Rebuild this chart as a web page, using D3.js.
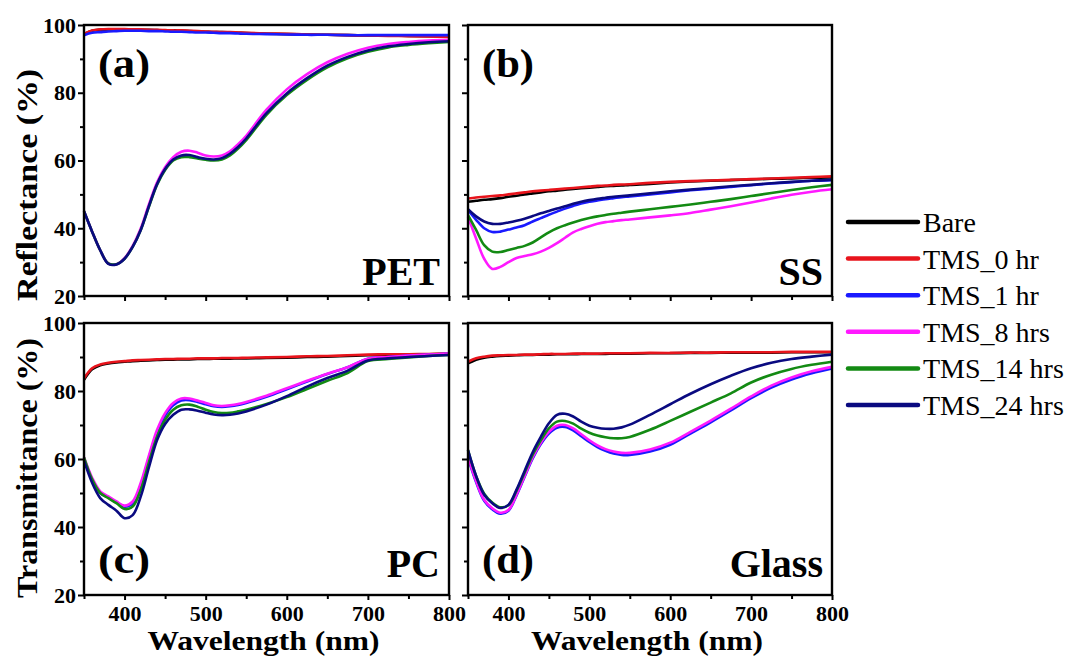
<!DOCTYPE html>
<html>
<head>
<meta charset="utf-8">
<script src="https://cdn.jsdelivr.net/npm/d3@7"></script>
<style>
  body { margin: 0; background: #fff; }
  svg { display: block; }
</style>
</head>
<body>
<script>
// wavelength grid (nm) shared by every series
const wavelengths = [350,360,370,380,390,400,410,420,430,440,450,460,470,480,490,500,510,520,530,540,550,575,600,625,650,675,700,725,750,775,800]

const seriesNames = ['Bare', 'TMS_0 hr', 'TMS_1 hr', 'TMS_8 hrs', 'TMS_14 hrs', 'TMS_24 hrs']
const seriesColors = ['#000000', '#e8141c', '#1a1aff', '#ff19ff', '#138a13', '#0a0a80']

const yTicksMajor = [20, 40, 60, 80, 100]
const yTicksMinor = [30, 50, 70, 90]
const xTicksMajor = [400, 500, 600, 700, 800]
const xTicksMinor = [350, 450, 550, 650, 750]

// (a) PET reflectance
const petBare = [97.3,98.3,98.6,98.7,98.7,98.7,98.7,98.6,98.6,98.5,98.4,98.4,98.3,98.2,98.1,98.0,97.9,97.9,97.8,97.7,97.6,97.4,97.3,97.2,97.1,97.0,96.9,96.9,96.8,96.7,96.6]
const pet0 = [97.4,98.4,98.7,98.8,98.8,98.8,98.7,98.7,98.6,98.6,98.5,98.4,98.4,98.3,98.2,98.1,98.0,97.9,97.9,97.8,97.7,97.5,97.4,97.2,97.1,97.0,96.9,96.8,96.7,96.6,96.5]
const pet1 = [97.0,97.7,97.9,98.1,98.2,98.3,98.3,98.3,98.2,98.2,98.1,98.0,98.0,97.9,97.8,97.8,97.7,97.6,97.6,97.5,97.4,97.3,97.2,97.1,97.1,97.0,97.0,97.0,97.0,97.0,97.0]
const pet8 = [45,39,33.5,29.6,29.4,31.2,34.8,40,47,53.5,58,61,62.6,62.9,62.3,61.5,61.2,61.5,62.7,64.8,67.3,75,81,85.5,89,91.5,93.3,94.4,95,95.4,95.6]
const pet14 = [45,39,33.5,29.6,29.4,31,34.5,39.5,46.3,52.8,57.2,60,61,61,60.6,60.2,60,60.3,61.5,63.5,66,73.5,79.3,83.8,87.5,90.2,92.1,93.4,94.1,94.6,95.0]
const pet24 = [45,39,33.5,29.5,29.3,31,34.5,39.5,46.5,53,57.5,60.3,61.5,61.6,61,60.5,60.3,60.7,62,64,66.5,74,79.8,84.3,88,90.6,92.5,93.7,94.4,94.9,95.2]

// (b) SS reflectance
const ssBare = [47.8,48.1,48.4,48.6,48.9,49.3,49.6,50,50.3,50.6,50.9,51.1,51.4,51.6,51.8,52,52.2,52.4,52.5,52.6,52.8,53.1,53.5,53.8,54,54.2,54.4,54.6,54.7,54.9,55.0]
const ss0 = [48.8,49.1,49.3,49.5,49.7,50,50.3,50.6,50.9,51.1,51.3,51.5,51.7,51.9,52.1,52.3,52.5,52.6,52.8,52.9,53.0,53.4,53.7,53.9,54.1,54.3,54.5,54.7,54.9,55.1,55.3]
const ss1 = [45.4,42.5,40,38.9,39,39.6,40.2,40.9,42,43,44,44.9,45.8,46.6,47.3,47.8,48.2,48.6,48.9,49.2,49.4,50,50.6,51.2,51.7,52.2,52.7,53.2,53.6,54,54.2]
const ss8 = [43.4,37,31,28,28.6,30,31.2,31.8,32.3,33.1,34.2,35.6,37.2,38.8,39.8,40.6,41.3,41.8,42.1,42.4,42.6,43.2,43.8,44.5,45.5,46.5,47.6,48.8,49.9,50.8,51.5]
const ss14 = [43.9,39.5,35,33.1,33,33.6,34.2,34.8,35.8,37.3,38.8,40,40.9,41.7,42.4,43,43.5,43.9,44.3,44.6,44.9,45.6,46.3,47,47.8,48.6,49.5,50.4,51.3,52.1,52.8]
const ss24 = [45.6,43.5,42,41.3,41.3,41.7,42.2,42.8,43.6,44.4,45.1,45.8,46.5,47.2,47.8,48.3,48.7,49,49.3,49.5,49.7,50.3,50.9,51.4,51.9,52.4,52.8,53.3,53.7,54,54.3]

// (c) PC transmittance
const pcBare = [83.3,86.4,87.6,88.1,88.4,88.6,88.8,88.9,89.0,89.1,89.2,89.2,89.3,89.3,89.4,89.4,89.5,89.5,89.5,89.6,89.6,89.7,89.8,90.0,90.1,90.3,90.5,90.6,90.7,90.8,90.9]
const pc0 = [83.7,86.7,87.8,88.3,88.6,88.8,89.0,89.1,89.2,89.3,89.4,89.4,89.5,89.5,89.6,89.6,89.6,89.7,89.7,89.7,89.8,89.9,90.0,90.2,90.3,90.5,90.7,90.8,90.8,90.9,91.0]
const pc1 = [60,54,50,48.7,47.2,46,47,52.3,60.3,67.8,72.8,75.8,77.2,77.3,76.8,76.1,75.5,75.3,75.5,75.9,76.5,78.3,80.5,82.8,85,87,89.5,90,90.4,90.7,91]
const pc8 = [60.5,54.5,50.5,49,47.5,46.3,47.5,53,61,68.5,73.5,76.5,77.8,77.8,77.2,76.5,75.8,75.6,75.8,76.2,76.8,78.6,80.8,83,85.1,87,89.5,90,90.4,90.7,91]
const pc14 = [60.5,54,50,48.5,47,45.3,46,51,59,66.5,71.5,74.5,75.8,76,75.4,74.5,73.8,73.5,73.6,74,74.5,76.2,78.2,80.6,83,85.3,88.8,89.4,89.9,90.3,90.6]
const pc24 = [59.5,53,48.5,46.5,44.8,42.6,43.5,49,57.5,65.5,70.3,73,74.5,74.6,74.2,73.6,73.1,72.9,73,73.4,74,76,78.5,81.3,83.8,86,89,89.6,90,90.3,90.6]

// (d) Glass transmittance
const glassBare = [88.1,89.2,89.8,90.1,90.3,90.4,90.5,90.6,90.6,90.7,90.7,90.8,90.8,90.8,90.9,90.9,90.9,90.9,91.0,91.0,91.0,91.1,91.1,91.2,91.2,91.3,91.3,91.3,91.4,91.4,91.4]
const glass0 = [88.6,89.6,90.1,90.4,90.5,90.6,90.6,90.7,90.7,90.8,90.9,90.9,90.9,91.0,91.0,91.0,91.0,91.1,91.1,91.1,91.1,91.2,91.2,91.3,91.3,91.4,91.4,91.4,91.5,91.5,91.5]
const glass1 = [60.4,53.2,47.7,45.2,43.9,44.8,49.3,54.8,60.2,64.4,67.5,69.2,69.4,68.4,66.7,65,63.5,62.4,61.6,61.2,61.2,62.2,64.2,67.5,70.8,74.3,77.9,81,83.4,85.2,86.6]
const glass8 = [60.6,53.5,48,45.5,44.2,45,49.5,55,60.5,64.8,68,69.8,70,69,67.3,65.5,64,62.9,62.2,61.8,61.8,62.8,64.8,68,71.3,74.8,78.4,81.6,84,85.8,87.1]
const glass14 = [62.6,55,49.8,47.2,45.8,46.4,50.7,56,61.3,65.5,69,71,71.2,70.4,68.9,67.7,66.9,66.4,66.1,66.1,66.5,68.6,71.2,73.9,76.6,79.3,82.5,84.8,86.5,87.7,88.6]
const glass24 = [62.6,55,49.5,47,45.6,46.5,51,56.5,62,66.5,70.5,73,73.3,72.5,71,69.8,69.2,68.9,68.9,69.3,70.1,73,76.1,79.2,82,84.5,86.7,88.3,89.4,90.1,90.7]

// panel layout
let svgWidth = 1077
let svgHeight = 656

let panels = [
    {id:'(a)', name:'PET', series:[petBare,pet0,pet1,pet8,pet14,pet24], x0:84, x1:449, y0:25, y1:296, yLabels:true, xLabels:false, top:true},
    {id:'(b)', name:'SS', series:[ssBare,ss0,ss1,ss8,ss14,ss24], x0:468, x1:832, y0:25, y1:296, yLabels:false, xLabels:false, top:true},
    {id:'(c)', name:'PC', series:[pcBare,pc0,pc1,pc8,pc14,pc24], x0:84, x1:449, y0:323, y1:595, yLabels:true, xLabels:true, top:false},
    {id:'(d)', name:'Glass', series:[glassBare,glass0,glass1,glass8,glass14,glass24], x0:468, x1:832, y0:323, y1:595, yLabels:false, xLabels:true, top:false}
]

const serif = "'Liberation Serif', 'Times New Roman', serif"

let svg = d3.select('body')
    .append('svg')
    .attr('width', svgWidth)
    .attr('height', svgHeight)
    .style('font-family', serif)

panels.forEach(p => {
    let xScale = d3.scaleLinear().domain([350, 800]).range([p.x0, p.x1])
    let yScale = d3.scaleLinear().domain([20, 100]).range([p.y1, p.y0])

    let g = svg.append('g')

    let line = d3.line()
        .x((d, i) => xScale(wavelengths[i]))
        .y(d => yScale(d))
        .curve(d3.curveCatmullRom)

    p.series.forEach((vals, i) => {
        g.append('path')
            .attr('d', line(vals))
            .attr('fill', 'none')
            .attr('stroke', seriesColors[i])
            .attr('stroke-width', 2.6)
            .attr('stroke-linejoin', 'round')
    })

    // frame
    g.append('rect')
        .attr('x', p.x0).attr('y', p.y0)
        .attr('width', p.x1 - p.x0).attr('height', p.y1 - p.y0)
        .attr('fill', 'none').attr('stroke', '#000').attr('stroke-width', 2.4)

    // axes: minor ticks then major ticks
    let yMinor = g.append('g').attr('transform', `translate(${p.x0},0)`)
        .call(d3.axisLeft(yScale).tickValues(yTicksMinor).tickSize(4).tickSizeOuter(0).tickFormat(''))
    let yMajor = g.append('g').attr('transform', `translate(${p.x0},0)`)
        .call(d3.axisLeft(yScale).tickValues(yTicksMajor).tickSize(6).tickSizeOuter(0)
            .tickPadding(2).tickFormat(p.yLabels ? d3.format('d') : ''))

    let xMinor = g.append('g').attr('transform', `translate(0,${p.y1})`)
        .call(d3.axisBottom(xScale).tickValues(xTicksMinor).tickSize(4).tickSizeOuter(0).tickFormat(''))
    let xMajor = g.append('g').attr('transform', `translate(0,${p.y1})`)
        .call(d3.axisBottom(xScale).tickValues(xTicksMajor).tickSize(5).tickSizeOuter(0)
            .tickPadding(5).tickFormat(p.xLabels ? d3.format('d') : ''))

    ;[yMinor, yMajor, xMinor, xMajor].forEach(ax => {
        ax.attr('font-family', null)
        ax.select('.domain').remove()
        ax.selectAll('line').attr('stroke', '#000').attr('stroke-width', 2)
        ax.selectAll('text')
            .style('font-family', serif)
            .attr('font-size', 22)
            .attr('font-weight', 'bold')
            .attr('fill', '#000')
    })

    // panel letter and substrate name
    g.append('text')
        .attr('x', p.x0 + 14)
        .attr('y', p.top ? p.y0 + 52 : p.y1 - 22)
        .attr('font-size', 40)
        .attr('font-weight', 'bold')
        .attr('textLength', 52)
        .attr('lengthAdjust', 'spacingAndGlyphs')
        .text(p.id)

    g.append('text')
        .attr('x', p.x1 - 9)
        .attr('y', p.top ? p.y1 - 11 : p.y1 - 18)
        .attr('text-anchor', 'end')
        .attr('font-size', 40)
        .attr('font-weight', 'bold')
        .text(p.name)

    if (p.xLabels) {
        g.append('text')
            .attr('x', (p.x0 + p.x1) / 2 - 3)
            .attr('y', 650)
            .attr('text-anchor', 'middle')
            .attr('font-size', 28)
            .attr('font-weight', 'bold')
            .attr('textLength', 232)
            .attr('lengthAdjust', 'spacingAndGlyphs')
            .text('Wavelength (nm)')
    }
})

// y axis titles
svg.append('text')
    .attr('transform', 'translate(37,185) rotate(-90)')
    .attr('text-anchor', 'middle')
    .attr('font-size', 30)
    .attr('font-weight', 'bold')
    .attr('textLength', 232)
    .attr('lengthAdjust', 'spacingAndGlyphs')
    .text('Reflectance (%)')

svg.append('text')
    .attr('transform', 'translate(37,468) rotate(-90)')
    .attr('text-anchor', 'middle')
    .attr('font-size', 30)
    .attr('font-weight', 'bold')
    .attr('textLength', 260)
    .attr('lengthAdjust', 'spacingAndGlyphs')
    .text('Transmittance (%)')

// legend
let legend = svg.append('g').attr('transform', 'translate(848,222)')
seriesNames.forEach((name, i) => {
    let row = legend.append('g').attr('transform', `translate(0,${i * 36.6})`)
    row.append('line')
        .attr('x1', 0).attr('x2', 70)
        .attr('stroke', seriesColors[i])
        .attr('stroke-width', 4.5)
        .attr('stroke-linecap', 'round')
    row.append('text')
        .attr('x', 75)
        .attr('y', 10)
        .attr('font-size', 28)
        .text(name)
})
</script>
</body>
</html>
